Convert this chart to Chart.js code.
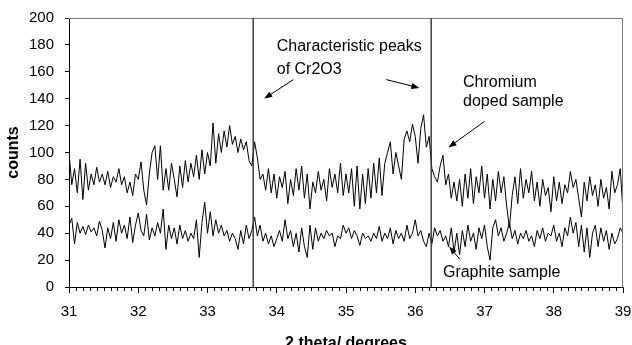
<!DOCTYPE html>
<html>
<head>
<meta charset="utf-8">
<script src="https://cdn.jsdelivr.net/npm/chart.js@4.4.1/dist/chart.umd.min.js"></script>
<style>
  body { margin: 0; background: #fff; }
  #wrap { width: 632px; height: 345px; }
</style>
</head>
<body>
<div id="wrap"><canvas id="xrd-canvas" width="632" height="345"></canvas></div>
<script>
// scan starts at 31 deg, one reading every 0.04 deg
const scanStart = 31;
const scanStep = 0.04;

// chromium doped sample, counts
const dopedCounts = [
  100, 76, 88, 70, 95, 65, 92, 72, 84, 76,
  89, 78, 84, 76, 86, 74, 82, 78, 88, 76,
  82, 70, 78, 68, 84, 80, 93, 72, 61, 84,
  100, 105, 80, 105, 72, 88, 72, 92, 80, 67,
  90, 74, 94, 78, 92, 82, 98, 80, 102, 84,
  100, 90, 122, 92, 114, 100, 116, 104, 120, 106,
  112, 100, 110, 102, 108, 94, 90, 108, 96, 80,
  84, 72, 88, 70, 84, 66, 82, 74, 86, 62,
  80, 68, 88, 72, 90, 66, 84, 58, 78, 70,
  86, 72, 80, 64, 88, 74, 84, 70, 92, 68,
  84, 70, 88, 60, 90, 58, 84, 62, 88, 66,
  92, 70, 96, 68, 92, 100, 108, 84, 100, 90,
  80, 110, 116, 108, 121, 112, 92, 118, 128, 104,
  112, 88, 82, 78, 90, 98, 76, 84, 66, 78,
  64, 80, 60, 84, 66, 88, 62, 82, 70, 90,
  66, 84, 58, 80, 64, 86, 70, 82, 60, 44,
  68, 82, 62, 88, 66, 80, 70, 86, 64, 78,
  60, 80, 68, 74, 56, 82, 64, 78, 62, 76,
  70, 86, 74, 80, 66, 52, 78, 64, 82, 68,
  76, 60, 80, 66, 74, 58, 86, 70, 76, 88,
  56
];

// graphite sample, counts
const graphiteCounts = [
  46, 51, 32, 48, 40, 45, 39, 46, 41, 44,
  38, 49, 42, 29, 44, 36, 48, 34, 50, 40,
  46, 36, 52, 33, 46, 55, 42, 38, 54, 35,
  44, 38, 48, 40, 58, 28, 46, 36, 44, 32,
  46, 36, 42, 34, 40, 36, 50, 22, 48, 63,
  40, 56, 38, 50, 40, 46, 38, 42, 34, 40,
  36, 28, 42, 32, 46, 36, 42, 52, 38, 46,
  34, 40, 32, 38, 30, 36, 42, 34, 50, 36,
  42, 30, 40, 26, 44, 30, 22, 46, 28, 44,
  34, 40, 36, 42, 38, 40, 30, 38, 36, 46,
  40, 44, 36, 42, 38, 31, 40, 36, 38, 34,
  40, 36, 45, 34, 40, 36, 44, 32, 42, 36,
  40, 34, 46, 36, 40, 50, 38, 42, 34, 30,
  40, 32, 44, 38, 42, 34, 38, 30, 44, 26,
  40, 24, 42, 30, 46, 34, 40, 28, 44, 36,
  46, 30, 20, 44, 50, 38, 44, 34, 40, 48,
  36, 42, 32, 40, 36, 42, 34, 38, 30, 42,
  36, 44, 34, 40, 38, 46, 34, 40, 30, 44,
  38, 52, 40, 48, 30, 46, 26, 44, 22, 40,
  46, 30, 44, 34, 42, 28, 40, 32, 36, 44,
  40
];

// Cr2O3 peak positions (deg)
const peakLines = [33.66, 36.23];

// axis ticks
const xTicks = [31, 32, 33, 34, 35, 36, 37, 38, 39];
const yTicks = [0, 20, 40, 60, 80, 100, 120, 140, 160, 180, 200];

// text notes and arrows, in data units
const notes = [
  { text: "Characteristic peaks", x: 34.0, y: 178.6 },
  { text: "of Cr2O3", x: 34.0, y: 161.5 },
  { text: "Chromium", x: 36.69, y: 151.9 },
  { text: "doped sample", x: 36.69, y: 137.8 },
  { text: "Graphite sample", x: 36.40, y: 10.6 }
];
const arrows = [
  { x1: 34.24, y1: 154.2, x2: 33.82, y2: 140.1 },
  { x1: 35.58, y1: 154.2, x2: 36.06, y2: 148.0 },
  { x1: 37.00, y1: 123.1, x2: 36.48, y2: 103.8 },
  { x1: 36.64, y1: 20.8, x2: 36.49, y2: 30.2 }
];

function toPoints(values) {
  let pts = [];
  for (let i = 0; i < values.length; i++) {
    pts.push({ x: +(scanStart + i * scanStep).toFixed(2), y: values[i] });
  }
  return pts;
}

const fontName = "'Liberation Sans', Arial, sans-serif";

// draws the box, minor ticks, peak lines and the notes
const extras = {
  id: 'extras',
  afterDatasetsDraw(chart) {
    const ctx = chart.ctx;
    const area = chart.chartArea;
    const xs = chart.scales.x;
    const ys = chart.scales.y;
    ctx.save();

    // frame round the plot
    ctx.strokeStyle = '#777';
    ctx.lineWidth = 1;
    ctx.beginPath();
    ctx.moveTo(area.left, area.top + 0.5);
    ctx.lineTo(area.right - 0.5, area.top + 0.5);
    ctx.lineTo(area.right - 0.5, area.bottom);
    ctx.stroke();

    // minor ticks every 0.1
    ctx.strokeStyle = '#000';
    ctx.beginPath();
    for (let k = 1; k < 80; k++) {
      if (k % 10 === 0) continue;
      let px = Math.round(xs.getPixelForValue(scanStart + k / 10)) + 0.5;
      ctx.moveTo(px, area.bottom);
      ctx.lineTo(px, area.bottom + 4);
    }
    ctx.stroke();

    // peak markers
    ctx.strokeStyle = '#333';
    ctx.lineWidth = 1.4;
    peakLines.forEach(v => {
      let px = xs.getPixelForValue(v);
      ctx.beginPath();
      ctx.moveTo(px, area.top);
      ctx.lineTo(px, area.bottom);
      ctx.stroke();
    });

    // notes
    ctx.fillStyle = '#000';
    ctx.font = '16px ' + fontName;
    ctx.textAlign = 'left';
    ctx.textBaseline = 'middle';
    notes.forEach(n => {
      ctx.fillText(n.text, xs.getPixelForValue(n.x), ys.getPixelForValue(n.y));
    });

    // arrows
    ctx.lineWidth = 1;
    ctx.strokeStyle = '#000';
    arrows.forEach(a => {
      let x1 = xs.getPixelForValue(a.x1), y1 = ys.getPixelForValue(a.y1);
      let x2 = xs.getPixelForValue(a.x2), y2 = ys.getPixelForValue(a.y2);
      let ang = Math.atan2(y2 - y1, x2 - x1);
      ctx.beginPath();
      ctx.moveTo(x1, y1);
      ctx.lineTo(x2 - 5 * Math.cos(ang), y2 - 5 * Math.sin(ang));
      ctx.stroke();
      ctx.beginPath();
      ctx.moveTo(x2, y2);
      ctx.lineTo(x2 - 8 * Math.cos(ang) + 3 * Math.sin(ang), y2 - 8 * Math.sin(ang) - 3 * Math.cos(ang));
      ctx.lineTo(x2 - 8 * Math.cos(ang) - 3 * Math.sin(ang), y2 - 8 * Math.sin(ang) + 3 * Math.cos(ang));
      ctx.closePath();
      ctx.fill();
    });
    ctx.restore();
  }
};

new Chart(document.getElementById('xrd-canvas'), {
  type: 'line',
  data: {
    datasets: [
      {
        label: 'Chromium doped sample',
        data: toPoints(dopedCounts),
        borderColor: '#000',
        borderWidth: 1,
        pointRadius: 0,
        tension: 0
      },
      {
        label: 'Graphite sample',
        data: toPoints(graphiteCounts),
        borderColor: '#000',
        borderWidth: 1,
        pointRadius: 0,
        tension: 0
      }
    ]
  },
  options: {
    responsive: false,
    animation: false,
    layout: { padding: { top: 18, right: 9, left: 0, bottom: 0 } },
    plugins: {
      legend: { display: false },
      tooltip: { enabled: false }
    },
    scales: {
      x: {
        type: 'linear',
        min: 31,
        max: 39,
        afterFit(scale) {
          scale.height = 58;
          // keep the plot reaching to the right edge
          scale.paddingLeft = 0;
          scale.paddingRight = 0;
        },
        afterBuildTicks(scale) { scale.ticks = xTicks.map(v => ({ value: v })); },
        ticks: {
          color: '#000',
          padding: 10,
          maxRotation: 0,
          font: { family: fontName, size: 15 }
        },
        grid: { drawOnChartArea: false, tickLength: 6, color: '#000' },
        border: { color: '#000', width: 1 },
        title: {
          display: true,
          text: '2 theta/ degrees',
          color: '#000',
          font: { family: fontName, size: 16, weight: 'bold', lineHeight: 1 },
          padding: { top: 0, bottom: -7 }
        }
      },
      y: {
        min: 0,
        max: 200,
        afterFit(scale) {
          scale.width = 69;
          scale.paddingTop = 0;
          scale.paddingBottom = 0;
        },
        afterBuildTicks(scale) { scale.ticks = yTicks.map(v => ({ value: v })); },
        ticks: {
          color: '#000',
          padding: 11,
          font: { family: fontName, size: 15 }
        },
        grid: { drawOnChartArea: false, tickLength: 4, color: '#000' },
        border: { color: '#000', width: 1 },
        title: {
          display: true,
          text: 'counts',
          color: '#000',
          font: { family: fontName, size: 16, weight: 'bold' },
          padding: { top: 4, bottom: 0 }
        }
      }
    }
  },
  plugins: [extras]
});
</script>
</body>
</html>
